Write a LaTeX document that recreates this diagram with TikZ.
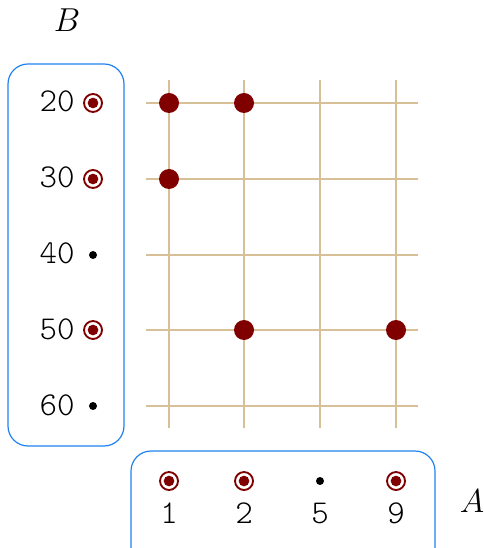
\documentclass[tikz,border=0pt]{standalone}
\definecolor{gridc}{RGB}{216,192,150}
\definecolor{dred}{RGB}{128,0,0}
\definecolor{boxc}{RGB}{30,130,240}
\begin{document}
\begin{tikzpicture}[x=0.75pt,y=-0.75pt,
  gridline/.style={draw=gridc,line width=1.1pt},
  setbox/.style={draw=boxc,line width=0.9pt,rounded corners=15pt},
  ring/.style={circle,draw=dred,line width=1.4pt,minimum size=13.5pt,inner sep=0pt,
    path picture={\fill[dred] (path picture bounding box.center) circle (4pt);}},
  bdot/.style={circle,fill=black,minimum size=6pt,inner sep=0pt},
  bigdot/.style={circle,fill=dred,minimum size=15pt,inner sep=0pt},
  lab/.style={font=\ttfamily\fontseries{l}\fontsize{25}{25}\selectfont,anchor=base,inner sep=0pt},
  axl/.style={font=\fontsize{25}{25}\selectfont,anchor=base,inner sep=0pt}]
\useasboundingbox (0,0) rectangle (483,548);
\clip (0,0) rectangle (483,548);
% boxes
\draw[setbox] (8,64) rectangle (124,446);
\draw[setbox] (131,451) rectangle (435,580);
% axis names
\node[axl] (B) at (67,32) {$B$};
\node[axl] (A) at (472,512) {$A$};
% grid
\foreach \x in {169,244,320,396} \draw[gridline] (\x,80) -- (\x,428);
\foreach \y in {103,179,255,330,406} \draw[gridline] (146,\y) -- (418,\y);
% left labels
\node[lab] (b20) at (57,112) {20};
\node[lab] (b30) at (57,188) {30};
\node[lab] (b40) at (57,264) {40};
\node[lab] (b50) at (57,339) {50};
\node[lab] (b60) at (57,415) {60};
\node[ring] (s20) at (93,103) {};
\node[ring] (s30) at (93,179) {};
\node[bdot] (s40) at (93,255) {};
\node[ring] (s50) at (93,330) {};
\node[bdot] (s60) at (93,406) {};
% bottom labels
\node[ring] (t1) at (169,481) {};
\node[ring] (t2) at (244,481) {};
\node[bdot] (t5) at (320,481) {};
\node[ring] (t9) at (396,481) {};
\node[lab] (a1) at (169,523) {1};
\node[lab] (a2) at (244,523) {2};
\node[lab] (a5) at (320,523) {5};
\node[lab] (a9) at (396,523) {9};
% points
\node[bigdot] (p1) at (169,103) {};
\node[bigdot] (p2) at (244,103) {};
\node[bigdot] (p3) at (169,179) {};
\node[bigdot] (p4) at (244,330) {};
\node[bigdot] (p5) at (396,330) {};
\end{tikzpicture}
\end{document}
